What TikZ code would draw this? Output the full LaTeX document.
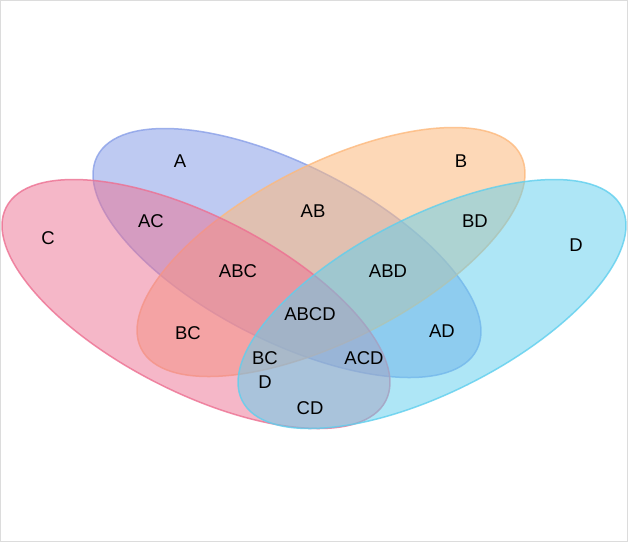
\documentclass[tikz,border=0pt]{standalone}
\usepackage{fontspec}
\setmainfont{Liberation Sans}
\begin{document}
\begin{tikzpicture}[x=1pt,y=-1pt,
  setA/.style={fill={rgb,255:red,138;green,160;blue,232},fill opacity=0.55,draw={rgb,255:red,138;green,160;blue,232},draw opacity=0.8,line width=1.5pt},
  setB/.style={fill={rgb,255:red,253;green,185;blue,125},fill opacity=0.55,draw={rgb,255:red,253;green,185;blue,125},draw opacity=0.8,line width=1.5pt},
  setC/.style={fill={rgb,255:red,237;green,112;blue,146},fill opacity=0.5,draw={rgb,255:red,237;green,112;blue,146},draw opacity=0.8,line width=1.5pt},
  setD/.style={fill={rgb,255:red,95;green,207;blue,238},fill opacity=0.5,draw={rgb,255:red,95;green,207;blue,238},draw opacity=0.8,line width=1.5pt},
  lab/.style={font=\fontsize{18.5pt}{24pt}\selectfont,text=black,inner sep=0pt}]
\draw[draw={rgb,255:red,220;green,220;blue,220},fill=white] (0.5,0.5) rectangle (627.5,541.5);
\useasboundingbox (0,0) rectangle (628,542);
\path[setA] (287,253) ellipse[x radius=213,y radius=88,rotate=-27];
\path[setB] (331,252) ellipse[x radius=213,y radius=88,rotate=27];
\path[setC] (196,304) ellipse[x radius=213,y radius=88,rotate=-27];
\path[setD] (432,304) ellipse[x radius=213,y radius=88,rotate=27];
\node[lab] (lA) at (180,161) {A};
\node[lab] (lB) at (461,161) {B};
\node[lab] (lC) at (48,238) {C};
\node[lab] (lD) at (576,245) {D};
\node[lab] (lAC) at (151,221) {AC};
\node[lab] (lAB) at (313,211) {AB};
\node[lab] (lBD) at (475,221) {BD};
\node[lab] (lABC) at (238,271) {ABC};
\node[lab] (lABD) at (388,271) {ABD};
\node[lab] (lABCD) at (310,314) {ABCD};
\node[lab] (lBC) at (188,333) {BC};
\node[lab] (lAD) at (442,331) {AD};
\node[lab,align=center] (lBCD) at (265,370) {BC\\D};
\node[lab] (lACD) at (364,358) {ACD};
\node[lab] (lCD) at (310,408) {CD};
\end{tikzpicture}
\end{document}
